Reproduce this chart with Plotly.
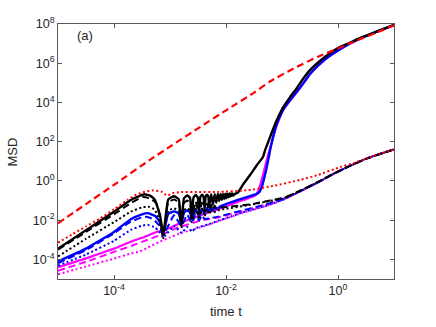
import numpy as np
import plotly.graph_objects as go

# values, stored as log10(t) and log10(MSD)
red_dash_lt = [-5, -4.5, -4, -3.36, -3, -2.5, -2, -1.5, -1.21, -0.8, -0.36, 0, 0.24, 0.65, 1.0]
red_dash_lm = [-2.16, -1.18, -0.2, 1.07, 1.75, 2.68, 3.6, 4.5, 5.08, 5.72, 6.33, 6.75, 7.05, 7.52, 7.93]

red_dot_lt = [-5, -4.75, -4.5, -4.25, -4, -3.75, -3.6, -3.45, -3.3, -3.15, -3.05, -2.95, -2.8,
              -2.5, -2.14, -1.6, -1.13, -0.68, -0.36, 0.04, 0.3, 0.6, 1.0]
red_dot_lm = [-3.15, -2.73, -2.32, -1.92, -1.45, -0.95, -0.7, -0.55, -0.48, -0.55, -0.75, -0.62, -0.57,
              -0.57, -0.56, -0.47, -0.24, 0.05, 0.3, 0.71, 0.93, 1.24, 1.61]

black_solid_lt = [-5, -4.5, -4, -3.7, -3.55, -3.456, -3.35, -3.27, -3.18, -3.119,
                  -3.032, -2.928, -2.845, -2.796, -2.75, -2.692, -2.642, -2.611,
                  -2.58, -2.541, -2.504, -2.481, -2.458, -2.428, -2.4, -2.382,
                  -2.364, -2.339, -2.316, -2.301,
                  -2.265, -2.233, -2.202, -2.174, -2.147, -2.122, -2.098, -2.076, -2.054, -2.034,
                  -2.014, -1.996, -1.979, -1.959, -1.943, -1.928, -1.91, -1.896, -1.883, -1.866,
                  -1.84, -1.79, -1.7, -1.57, -1.45, -1.34, -1.3, -1.21, -1.1, -0.98,
                  -0.85, -0.74, -0.6, -0.5, -0.35, -0.23, 0, 0.2, 0.41, 0.7, 1.0]
black_solid_lm = [-3.45, -2.52, -1.57, -0.97, -0.77, -0.68, -0.76, -0.97, -1.73, -2.75,
                  -0.95, -0.78, -0.93, -2.24, -0.88, -0.74, -0.87, -1.9,
                  -0.84, -0.72, -0.84, -1.65, -0.82, -0.7, -0.81, -1.45,
                  -0.8, -0.7, -0.79, -1.3,
                  -0.68, -1.2, -0.68, -1.1, -0.67, -1.02, -0.66, -0.97, -0.66, -0.92,
                  -0.65, -0.88, -0.65, -0.84, -0.64, -0.8, -0.64, -0.77, -0.64, -0.74,
                  -0.66, -0.6, -0.2, 0.3, 0.8, 1.22, 1.58, 2.26, 3.05, 3.75,
                  4.3, 4.72, 5.3, 5.65, 6.05, 6.33, 6.78, 7.03, 7.3, 7.62, 7.95]

black_dash_lt = [-5, -4.5, -4, -3.7, -3.55, -3.47, -3.35, -3.25, -3.18, -3.119,
                 -3.032, -2.928, -2.845, -2.796, -2.75, -2.692, -2.642, -2.611,
                 -2.541, -2.481, -2.428, -2.382, -2.339, -2.301,
                 -2.265, -2.233, -2.202, -2.174,
                 -2.1, -1.96, -1.57, -1.21, -0.95, -0.68, -0.36, -0.08, 0.2, 0.51, 1.0]
black_dash_lm = [-3.5, -2.6, -1.7, -1.13, -0.9, -0.82, -0.9, -1.12, -1.8, -2.85,
                 -1.1, -0.95, -1.1, -2.3, -1.12, -1.0, -1.12, -1.95,
                 -1.05, -1.75, -1.1, -1.6, -1.15, -1.5,
                 -1.2, -1.45, -1.25, -1.42,
                 -1.36, -1.32, -1.2, -1.0, -0.85, -0.5, -0.05, 0.37, 0.75, 1.14, 1.61]

black_dot_lt = [-5, -4.5, -4, -3.7, -3.5, -3.39, -3.28, -3.2, -3.119,
                -3.032, -2.928, -2.845, -2.796, -2.75, -2.692, -2.642, -2.611,
                -2.541, -2.481, -2.428, -2.382, -2.339, -2.301,
                -2.265, -2.233,
                -2.15, -2.0, -1.57, -1.21, -0.95, -0.68, -0.36, -0.08, 0.2, 0.51, 1.0]
black_dot_lm = [-3.85, -2.95, -2.1, -1.57, -1.35, -1.31, -1.45, -1.9, -2.92,
                -1.52, -1.4, -1.52, -2.4, -1.5, -1.4, -1.5, -2.1,
                -1.42, -1.95, -1.42, -1.8, -1.44, -1.7,
                -1.45, -1.62,
                -1.5, -1.42, -1.22, -1.02, -0.86, -0.51, -0.06, 0.37, 0.75, 1.14, 1.61]

blue_solid_lt = [-5, -4.5, -4, -3.7, -3.5, -3.4, -3.27, -3.18, -3.119,
                 -3.032, -2.928, -2.845, -2.796, -2.75, -2.692, -2.642, -2.611,
                 -2.541, -2.481, -2.428, -2.382, -2.339, -2.301,
                 -2.265, -2.233, -2.202, -2.174,
                 -2.1, -2.0, -1.8, -1.6, -1.45, -1.4, -1.36, -1.33, -1.28, -1.24, -1.21,
                 -1.15, -1.09, -0.98, -0.85, -0.74, -0.6, -0.5, -0.35, -0.23, 0, 0.2, 0.41, 0.7, 1.0]
blue_solid_lm = [-4.1, -3.45, -2.6, -1.95, -1.7, -1.64, -1.78, -2.1, -2.65,
                 -1.68, -1.55, -1.66, -2.1, -1.62, -1.5, -1.6, -1.95,
                 -1.45, -1.8, -1.42, -1.68, -1.38, -1.58,
                 -1.34, -1.5, -1.3, -1.42,
                 -1.3, -1.18, -0.98, -0.8, -0.66, -0.55, -0.3, 0.0, 0.6, 1.15, 1.6,
                 2.35, 2.94, 3.62, 4.15, 4.53, 5.05, 5.45, 5.9, 6.2, 6.65, 6.98, 7.28, 7.62, 7.95]

blue_dash_lt = [-5, -4.5, -4, -3.7, -3.5, -3.42, -3.3, -3.2, -3.119,
                -2.928, -2.796, -2.692, -2.611, -2.541, -2.481, -2.428, -2.382,
                -2.3, -2.14, -1.7, -1.37, -1.21, -0.95, -0.68, -0.36, -0.08, 0.2, 0.51, 1.0]
blue_dash_lm = [-4.2, -3.52, -2.67, -2.08, -1.86, -1.83, -1.95, -2.25, -2.75,
                -1.75, -2.3, -1.72, -2.15, -1.72, -2.02, -1.74, -1.95,
                -1.9, -1.82, -1.5, -1.26, -1.13, -0.88, -0.52, -0.07, 0.36, 0.75, 1.14, 1.61]

blue_dot_lt = [-5, -4.5, -4, -3.7, -3.5, -3.4, -3.28, -3.2, -3.119,
               -2.928, -2.796, -2.692, -2.611,
               -2.55, -2.3, -2.14, -1.9, -1.7, -1.45, -1.21, -0.95, -0.68, -0.36, -0.08, 0.2, 0.51, 1.0]
blue_dot_lm = [-4.32, -3.75, -3.05, -2.5, -2.28, -2.24, -2.35, -2.55, -2.88,
               -2.3, -2.65, -2.35, -2.58,
               -2.42, -2.2, -2.03, -1.8, -1.6, -1.4, -1.2, -0.92, -0.54, -0.08, 0.36, 0.75, 1.14, 1.61]

mag_solid_lt = [-5, -4.5, -4, -3.7, -3.5, -3.25, -3.0, -2.8, -2.6, -2.3,
                -2.0, -1.8, -1.6, -1.47, -1.42, -1.38, -1.34, -1.3, -1.25, -1.2,
                -1.12, -1.05, -0.98, -0.74, -0.5, -0.23, 0, 0.41, 1.0]
mag_solid_lm = [-4.4, -3.95, -3.45, -3.1, -2.9, -2.62, -2.4, -2.12, -1.9, -1.6,
                -1.3, -1.08, -0.88, -0.72, -0.48, -0.12, 0.3, 0.75, 1.3, 1.8,
                2.6, 3.15, 3.62, 4.5, 5.44, 6.2, 6.65, 7.28, 7.95]

mag_dash_lt = [-5, -4.5, -4, -3.7, -3.4, -3.1, -2.9, -2.6, -2.4, -2.14,
               -1.7, -1.37, -1.21, -0.95, -0.68, -0.36, -0.08, 0.2, 0.51, 1.0]
mag_dash_lm = [-4.58, -4.12, -3.62, -3.32, -3.0, -2.68, -2.42, -2.15, -1.98, -1.86,
               -1.52, -1.27, -1.14, -0.89, -0.53, -0.08, 0.36, 0.75, 1.14, 1.61]

mag_dot_lt = [-5, -4.5, -4, -3.7, -3.54, -3.4, -3.2, -3.0, -2.8, -2.55, -2.3, -2.14,
              -1.9, -1.7, -1.45, -1.21, -0.95, -0.68, -0.36, -0.08, 0.2, 0.51, 1.0]
mag_dot_lm = [-4.76, -4.36, -3.96, -3.7, -3.6, -3.4, -3.12, -2.88, -2.65, -2.45, -2.22, -2.05,
              -1.82, -1.62, -1.42, -1.21, -0.93, -0.55, -0.09, 0.36, 0.75, 1.14, 1.61]

x_tickvals = [1e-4, 1e-2, 1]
x_ticktext = ["10<sup>-4</sup>", "10<sup>-2</sup>", "10<sup>0</sup>"]
y_tickvals = [1e-4, 1e-2, 1, 1e2, 1e4, 1e6, 1e8]
y_ticktext = ["10<sup>-4</sup>", "10<sup>-2</sup>", "10<sup>0</sup>", "10<sup>2</sup>",
              "10<sup>4</sup>", "10<sup>6</sup>", "10<sup>8</sup>"]

DASH = "7px,4px"
DOT = "2px,2.5px"

# drawing order: later traces sit on top
curves = [
    (mag_dot_lt, mag_dot_lm, "#ff00ff", DOT, 2),
    (mag_dash_lt, mag_dash_lm, "#ff00ff", DASH, 2),
    (mag_solid_lt, mag_solid_lm, "#ff00ff", "solid", 2.2),
    (blue_dot_lt, blue_dot_lm, "#0000ff", DOT, 2),
    (blue_dash_lt, blue_dash_lm, "#0000ff", DASH, 2),
    (blue_solid_lt, blue_solid_lm, "#0000ff", "solid", 2.4),
    (black_dot_lt, black_dot_lm, "#000000", DOT, 2),
    (black_dash_lt, black_dash_lm, "#000000", DASH, 2),
    (black_solid_lt, black_solid_lm, "#000000", "solid", 2.4),
    (red_dot_lt, red_dot_lm, "#ff0000", DOT, 2),
    (red_dash_lt, red_dash_lm, "#ff0000", DASH, 2.2),
]

fig = go.Figure()
for lt, lm, color, dash, width in curves:
    fig.add_trace(
        go.Scatter(
            x=np.power(10.0, lt),
            y=np.power(10.0, lm),
            mode="lines",
            line=dict(color=color, width=width, dash=dash, shape="spline", smoothing=0.4),
            showlegend=False,
            hoverinfo="skip",
        )
    )

axis_common = dict(
    type="log",
    showgrid=False,
    zeroline=False,
    showline=True,
    linecolor="#5a5a5a",
    linewidth=1,
    mirror="ticks",
    ticks="inside",
    ticklen=4,
    tickcolor="#5a5a5a",
    tickfont=dict(family="Liberation Sans, Arial, sans-serif", size=12.5, color="#262626"),
)

fig.update_xaxes(range=[-5, 1], tickvals=x_tickvals, ticktext=x_ticktext, **axis_common)
fig.update_yaxes(range=[-5, 8], tickvals=y_tickvals, ticktext=y_ticktext, **axis_common)

label_font = dict(family="Liberation Sans, Arial, sans-serif", size=13, color="#262626")
fig.update_layout(
    width=436,
    height=327,
    margin=dict(l=58, r=42, t=24, b=48),
    paper_bgcolor="white",
    plot_bgcolor="white",
    annotations=[
        dict(text="MSD", xref="paper", yref="paper", x=-0.134, y=0.5, textangle=-90,
             showarrow=False, xanchor="center", yanchor="middle", font=label_font),
        dict(text="time t", xref="paper", yref="paper", x=0.5, y=-0.129,
             showarrow=False, xanchor="center", yanchor="middle", font=label_font),
        dict(text="(a)", xref="paper", yref="paper", x=0.05, y=0.955,
             showarrow=False, xanchor="left", yanchor="middle", font=label_font),
    ],
)

fig.write_html(
    "out.html",
    config={"displayModeBar": False},
    post_script="document.body.style.margin='0';",
)
